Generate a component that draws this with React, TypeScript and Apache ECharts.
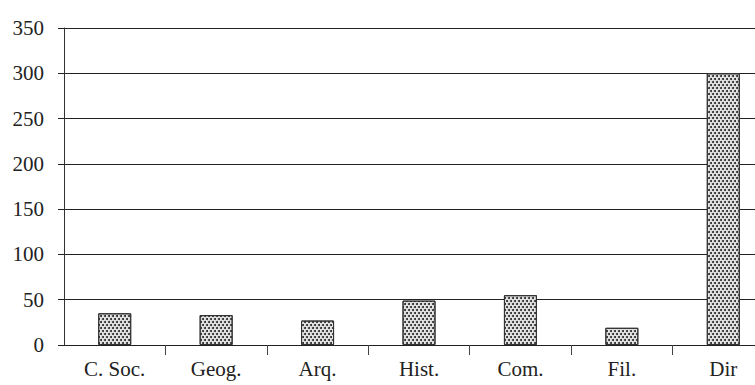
import React, { useEffect, useRef } from "react";
import * as echarts from "echarts";

const categories = ["C. Soc.", "Geog.", "Arq.", "Hist.", "Com.", "Fil.", "Dir"];
const values = [35, 33, 27, 49, 55, 19, 300];
const yTicks = [0, 50, 100, 150, 200, 250, 300, 350];

export default function App() {
  const ref = useRef<HTMLDivElement>(null);
  useEffect(() => {
    const chart = echarts.init(ref.current!, null, { renderer: "svg" });
    const font = "'Liberation Serif', 'DejaVu Serif', serif";
    chart.setOption({
      animation: false,
      backgroundColor: "#ffffff",
      grid: { left: 64, top: 28, bottom: 40, width: 710, outerBoundsMode: "none" },
      xAxis: {
        type: "category",
        data: categories,
        boundaryGap: true,
        axisLine: { show: true, lineStyle: { color: "#222", width: 1 } },
        axisTick: {
          show: true,
          length: 10,
          lineStyle: { color: "#444" },
          interval: (i: number) => i !== 0,
        },
        axisLabel: { color: "#222", fontFamily: font, fontSize: 21, margin: 13 },
        splitLine: { show: false },
      },
      yAxis: {
        type: "value",
        min: yTicks[0],
        max: yTicks[yTicks.length - 1],
        interval: 50,
        axisLine: { show: true, lineStyle: { color: "#333", width: 1 } },
        axisTick: { show: true, length: 6, lineStyle: { color: "#222" } },
        axisLabel: { color: "#222", fontFamily: font, fontSize: 21, margin: 20 },
        splitLine: { show: true, lineStyle: { color: "#222", width: 1 } },
      },
      series: [
        {
          type: "bar",
          data: values,
          barWidth: 33,
          itemStyle: {
            color: "#e4e4e4",
            borderColor: "#333",
            borderWidth: 1,
            decal: {
              symbol: "circle",
              symbolSize: 1,
              color: "#222",
              dashArrayX: [[2, 2], [0, 2, 2, 0]],
              dashArrayY: [2, 1],
              rotation: 0,
            },
          },
        },
      ],
    });
    return () => chart.dispose();
  }, []);
  return <div ref={ref} style={{ width: 755, height: 385, position: "absolute", left: 0, top: 0 }} />;
}
